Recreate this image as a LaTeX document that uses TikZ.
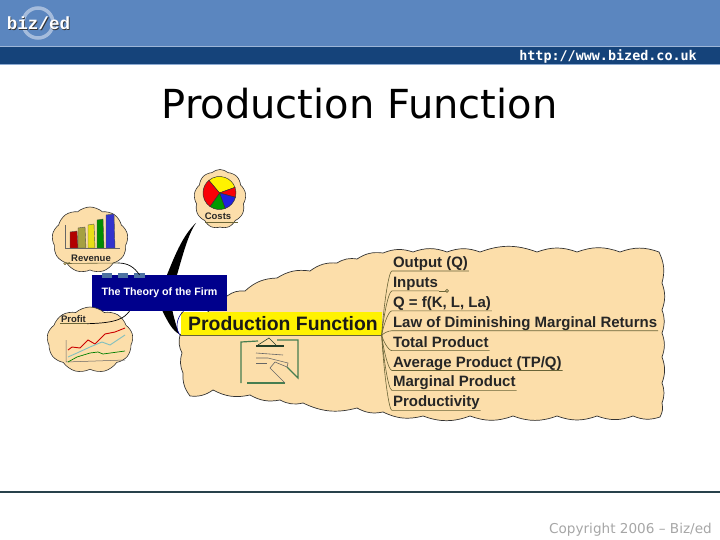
\documentclass[tikz,border=0pt]{standalone}
\usepackage{fontspec}
\setmainfont{Liberation Sans}
\newfontfamily\titlefont{DejaVu Sans}
\newfontfamily\urlfont{DejaVu Sans Mono}
\newfontfamily\logofont{Liberation Mono}
\usetikzlibrary{shapes,positioning,calc,backgrounds}
\definecolor{headblue}{RGB}{91,134,191}
\definecolor{headdark}{RGB}{21,67,122}
\definecolor{footline}{RGB}{40,65,75}
\definecolor{cloudtan}{RGB}{252,222,170}
\definecolor{boxblue}{RGB}{0,0,140}
\definecolor{stemolive}{RGB}{105,100,55}
\definecolor{clipgreen}{RGB}{70,125,80}
\begin{document}
\begin{tikzpicture}
[x=1pt,y=-1pt,
smallcloud/.style={draw=black!80,line width=.6pt,fill=cloudtan,cloud,cloud puffs=9,cloud puff arc=85,inner sep=0pt},
bigcloud/.style={draw=black!80,line width=.7pt,fill=cloudtan},
item/.style={font=\bfseries\fontsize{15}{16}\selectfont,text=black!85,inner xsep=1pt,inner ysep=0pt,outer sep=0pt,text height=16.4pt,text depth=3.5pt,anchor=south west},
stem/.style={stemolive,line width=.6pt},
cloudlabel/.style={font=\bfseries\fontsize{9.5}{11}\selectfont,text=black!85,inner sep=1pt},
taper/.style={fill=black,draw=none},
tab/.style={fill=headblue!85!black,draw=none},
clipline/.style={clipgreen,line width=1.2pt}]
\useasboundingbox (0,0) rectangle (720,540);
%%
\fill[headblue] (0,0) rectangle (720,47);
\fill[headdark] (0,47) rectangle (720,64);
\fill[headblue!70] (0,64) rectangle (720,65.5);
\draw[headblue!60!white,line width=.8pt] (0,46.5) -- (720,46.5);
\draw[white!45!headblue,line width=3.5pt] (38,23) circle (15);
\node (logoshadow) [font=\logofont\bfseries\fontsize{17.6}{18}\selectfont,text=black!80] at (39.3,24.2) {biz/ed};
\node (logo) [font=\logofont\bfseries\fontsize{17.6}{18}\selectfont,text=white] at (38.5,23.2) {biz/ed};
\node (url) [font=\urlfont\bfseries\fontsize{13.4}{14}\selectfont,text=white,anchor=east,inner sep=0pt] at (697,56.5) {http://www.bized.co.uk};
\node (title) [font=\titlefont\fontsize{40}{44}\selectfont,text=black,anchor=center,inner sep=0pt] at (359.5,104) {Production Function};
%%
\draw[footline,line width=2pt] (0,491.5) -- (720,491.5);
\node (copy) [font=\titlefont\fontsize{13.6}{15}\selectfont,text=black!35,anchor=east,inner sep=0pt] at (712,530) {Copyright 2006 – Biz/ed};
%%
\path[bigcloud] (180,335) foreach \px/\py in {182/353,183/373,190/396,213/390,250/395,280/400,303/403,357/408,383/412,423/416,470/416,513/416,557/416,597/416,633/416,660/417,662/403,662/383,662/357,662/333,662/310,662/283,659/252,620/252,577/252,537/252,480/252,447/252,413/252,383/253,357/259,337/263,310/271,277/278,245/291,227/296}{
to[bend right=20] (\px,\py)} -- cycle;
%%
\node (theory) [fill=boxblue,text=white,font=\bfseries\fontsize{10.7}{12}\selectfont,minimum width=135pt,minimum height=36pt,inner sep=0pt] at (159.5,293) {The Theory of the Firm};
\fill[tab] (102,272.5) rectangle (112,278);
\fill[tab] (118,272.5) rectangle (128,278);
\fill[tab] (134,272.5) rectangle (145,278);
%%
\node (prodfn) [fill=yellow,font=\bfseries\fontsize{19.4}{21}\selectfont,text=black!90,minimum width=201pt,minimum height=23pt,inner sep=0pt] at (281,323.5) {\hspace*{4pt}Production Function};
\coordinate (root) at (prodfn.south east);
\draw[stem] (prodfn.south west) -- (prodfn.south east);
%%
\node (output) [item] at (392,271) {Output (Q)};
\node (inputs) [item,below right=0pt and 0pt of output.south west] {Inputs};
\node (qfn) [item,below right=0pt and 0pt of inputs.south west] {Q = f(K, L, La)};
\node (law) [item,below right=0pt and 0pt of qfn.south west] {Law of Diminishing Marginal Returns};
\node (total) [item,below right=0pt and 0pt of law.south west] {Total Product};
\node (average) [item,below right=0pt and 0pt of total.south west] {Average Product (TP/Q)};
\node (marginal) [item,below right=0pt and 0pt of average.south west] {Marginal Product};
\node (product) [item,below right=0pt and 0pt of marginal.south west] {Productivity};
%%
\foreach \branch in {output,inputs,qfn,law,total,average,marginal,product}{
\draw[stem] (root) .. controls ($(root)!.3!(\branch.south west)+(-2,0)$) and ($(\branch.south west)+(-4,0)$) .. (\branch.south west) -- (\branch.south east);
}
\draw[stem] (inputs.south east) -- ++(8,0) coordinate (inputsend);
\draw[stem,fill=cloudtan] (inputsend) circle (1.5);
%%
\node (revcloud) [smallcloud,minimum width=76pt,minimum height=66pt] at (90,240) {};
\node (costcloud) [smallcloud,minimum width=52pt,minimum height=59pt] at (220,199) {};
\node (profitcloud) [smallcloud,minimum width=86pt,minimum height=66pt] at (90,340) {};
\node (revenue) [cloudlabel] at (91,258) {Revenue};
\node (costs) [cloudlabel] at (218,216) {Costs};
\node (profit) [cloudlabel] at (73.5,319) {Profit};
\draw[stem] (revenue.south west) -- ++(-5,1) coordinate (revend) -- (118,263);
\draw[stem,fill=cloudtan] (revend) circle (1.3);
\draw[stem] (205,222) -- (238,222);
\draw[stem] (profit.south west) -- (profit.south east);
%%
\foreach \xa/\xb/\ytop/\barcolor in {70/77/232/red!70!black,78/85/228/yellow!60!black,88/94/225/yellow!90!black,97/103/220/green!55!black,106/114/215/blue!60!gray}{
\filldraw[fill=\barcolor,draw=black!70,line width=.4pt] (\xa,248) -- (\xa,\ytop) -- (\xb,\ytop-1) -- (\xb+1,248) -- cycle;
}
\draw[black!60,line width=.5pt] (65,225) -- (65,248) -- (120,248);
%%
\coordinate (pie) at (219.5,193);
\foreach \ga/\gb/\piecolor in {-130/-20/yellow,-20/15/red!90!purple,15/70/blue!75!gray,70/125/green!60!black,125/230/red!90!purple}{
\filldraw[fill=\piecolor,draw=black!80,line width=.5pt] (pie) -- +(\ga:16.5) arc[start angle=\ga,end angle=\gb,radius=16.5] -- cycle;
}
%%
\draw[black!60,line width=.5pt] (66,340) -- (66,362) -- (125,360);
\draw[red!80!black,line width=.9pt] (68,350) -- (72,347) -- (80,348) -- (88,340) -- (95,344) -- (105,334) -- (115,332) -- (125,328);
\draw[teal!50!white,line width=.9pt] (68,357) -- (77,353) -- (90,347) -- (102,342) -- (110,345) -- (125,335);
\draw[green!50!black,line width=.7pt] (68,362) -- (77,357) -- (90,353) -- (98,352) -- (103,354) -- (125,351);
%%
\draw[clipline] (241,383) -- (241,342) -- (258,341);
\draw[clipline] (277,340) -- (298,340) -- (298,378) -- (287,367);
\draw[clipline] (247,383) -- (285,383);
\draw[black!50!clipgreen,line width=1.4pt] (256,346) -- (284,346);
\draw[black!50!clipgreen,line width=.6pt] (258,345) -- (269,338) -- (276,345);
\draw[black!60,line width=.6pt] (256,353) -- (283,355);
\draw[black!60,line width=.6pt] (256,358) -- (268,358) -- (288,363) -- (287,367) -- (275,362) -- (270,368) -- (285,383);
\draw[black!60,line width=.6pt] (256,363) -- (267,363);
%%
\fill[taper] ([xshift=7.5pt]theory.north) .. controls (174,258) and (182,236) .. (196,223) .. controls (188,234) and (182,258) .. ([xshift=17.5pt]theory.north) -- cycle;
\fill[taper] ([xshift=3pt]theory.south) .. controls (168,322) and (172,330) .. (179,334) .. controls (176,325) and (174,318) .. ([xshift=13pt]theory.south) -- cycle;
\draw[black,line width=.7pt] (118,263) .. controls (128,263) and (134,267) .. ([xshift=-20pt]theory.north);
\draw[black,line width=.7pt] (profit.south east) .. controls (118,323) and (124,318) .. ([xshift=-30pt]theory.south);
\draw[boxblue,line width=.6pt] ([xshift=24pt]theory.south) .. controls (176,318) and (175,330) .. (prodfn.south west);
\end{tikzpicture}
\end{document}
